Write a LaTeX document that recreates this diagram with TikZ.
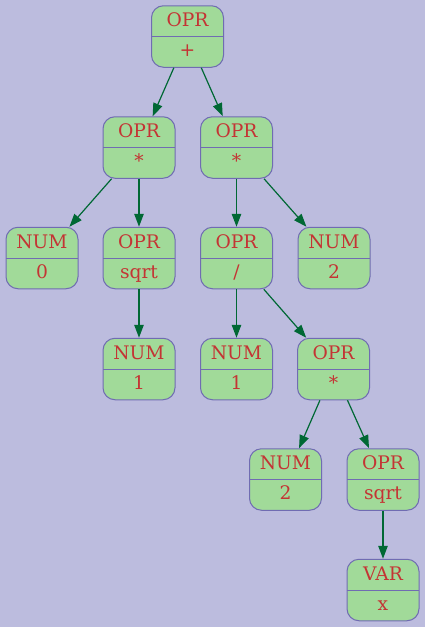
\documentclass[tikz,border=0pt]{standalone}
\usepackage{fontspec}
\setmainfont{DejaVu Serif}
\usetikzlibrary{arrows.meta}
\definecolor{bgcol}{RGB}{188,188,222}
\definecolor{fillcol}{RGB}{161,218,153}
\definecolor{bordercol}{RGB}{112,108,178}
\definecolor{txtcol}{RGB}{196,52,52}
\definecolor{edgecol}{RGB}{0,104,52}
\tikzset{
  lbl/.style={text=txtcol, font=\fontsize{18.67}{20}\selectfont, inner sep=0pt, text height=13.5pt, text depth=0pt},
  rec/.style 2 args={draw=bordercol, fill=fillcol, rounded corners=12pt,
    minimum width=72pt, minimum height=61.5pt, inner sep=0pt, line width=1pt,
    path picture={\draw[bordercol, line width=1pt] (path picture bounding box.west) -- (path picture bounding box.east);},
    label={[lbl, yshift=16.55pt]center:#1},
    label={[lbl, yshift=-13.25pt]center:#2}},
  edge/.style={draw=edgecol, line width=1.2pt, -{Triangle[length=13pt,width=9.5pt]}}
}
\begin{document}
\begin{tikzpicture}[x=1pt,y=-1pt]
\fill[bgcol] (0,0) rectangle (425,627);
\useasboundingbox (0,0) rectangle (425,627);
\node[rec={OPR}{+}] (r) at (187.5,36.5) {};
\node[rec={OPR}{*}] (a) at (139,147.5) {};
\node[rec={OPR}{*}] (b) at (236.5,147.5) {};
\node[rec={NUM}{0}] (c) at (42,258) {};
\node[rec={OPR}{sqrt}] (d) at (139,258) {};
\node[rec={OPR}{/}] (e) at (236.5,258) {};
\node[rec={NUM}{2}] (f) at (334,258) {};
\node[rec={NUM}{1}] (g) at (139,369) {};
\node[rec={NUM}{1}] (h) at (236.5,369) {};
\node[rec={OPR}{*}] (i) at (333.5,369) {};
\node[rec={NUM}{2}] (j) at (285.5,479.5) {};
\node[rec={OPR}{sqrt}] (k) at (383,479.5) {};
\node[rec={VAR}{x}] (l) at (383,590) {};
\draw[edge] (r) -- (a);
\draw[edge] (r) -- (b);
\draw[edge] (a) -- (c);
\draw[edge] (a) -- (d);
\draw[edge] (d) -- (g);
\draw[edge] (b) -- (e);
\draw[edge] (b) -- (f);
\draw[edge] (e) -- (h);
\draw[edge] (e) -- (i);
\draw[edge] (i) -- (j);
\draw[edge] (i) -- (k);
\draw[edge] (k) -- (l);
\end{tikzpicture}
\end{document}
